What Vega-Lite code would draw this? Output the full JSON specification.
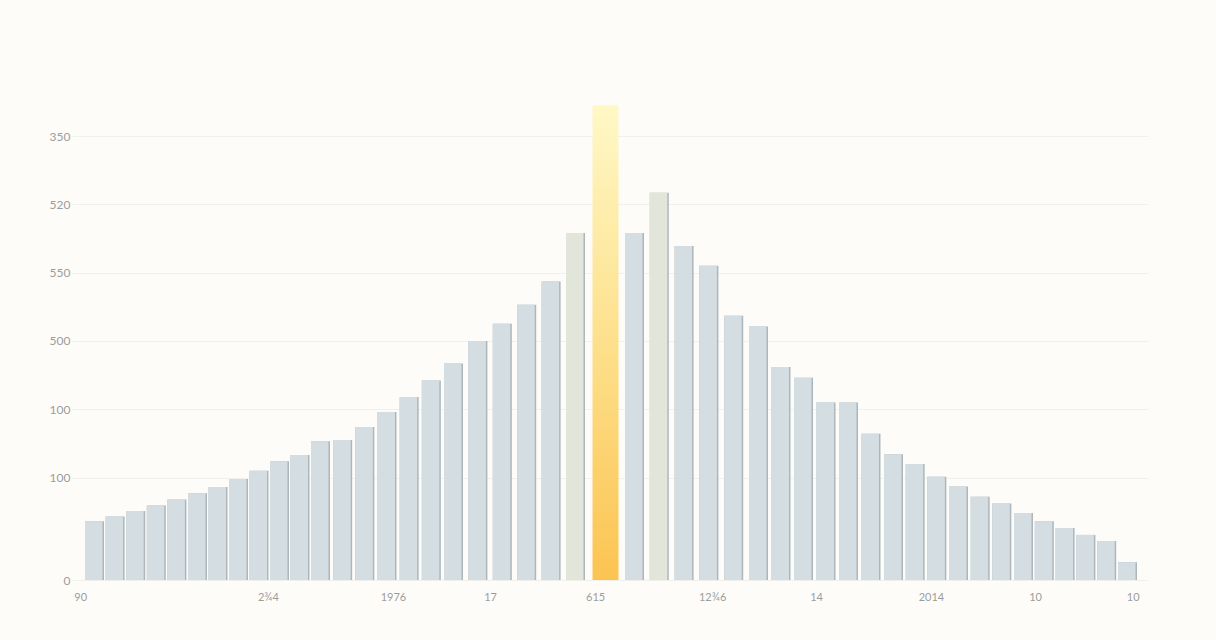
{
  "$schema": "https://vega.github.io/schema/vega-lite/v6.json",
  "autosize": {"type": "none"},
  "width": 1076,
  "height": 500,
  "padding": {"left": 72, "top": 80, "right": 68, "bottom": 60},
  "background": "#fdfcf9",
  "config": {
    "view": {"stroke": null},
    "axis": {"labelFont": "Lato", "labelColor": "#9c9c9c", "domain": false, "ticks": false}
  },
  "data": {
    "values": [
      {"i": 1, "v": 86, "group": "normal"},
      {"i": 2, "v": 93, "group": "normal"},
      {"i": 3, "v": 101, "group": "normal"},
      {"i": 4, "v": 109, "group": "normal"},
      {"i": 5, "v": 118, "group": "normal"},
      {"i": 6, "v": 127, "group": "normal"},
      {"i": 7, "v": 136, "group": "normal"},
      {"i": 8, "v": 148, "group": "normal"},
      {"i": 9, "v": 160, "group": "normal"},
      {"i": 10, "v": 174, "group": "normal"},
      {"i": 11, "v": 183, "group": "normal"},
      {"i": 12, "v": 203, "group": "normal"},
      {"i": 13, "v": 205, "group": "normal"},
      {"i": 14, "v": 224, "group": "normal"},
      {"i": 15, "v": 246, "group": "normal"},
      {"i": 16, "v": 268, "group": "normal"},
      {"i": 17, "v": 292, "group": "normal"},
      {"i": 18, "v": 317, "group": "normal"},
      {"i": 19, "v": 350, "group": "normal"},
      {"i": 20, "v": 375, "group": "normal"},
      {"i": 21, "v": 403, "group": "normal"},
      {"i": 22, "v": 437, "group": "normal"},
      {"i": 23, "v": 508, "group": "tinted"},
      {"i": 24, "v": 695, "group": "highlight"},
      {"i": 25, "v": 508, "group": "normal"},
      {"i": 26, "v": 567, "group": "tinted"},
      {"i": 27, "v": 489, "group": "normal"},
      {"i": 28, "v": 460, "group": "normal"},
      {"i": 29, "v": 387, "group": "normal"},
      {"i": 30, "v": 371, "group": "normal"},
      {"i": 31, "v": 312, "group": "normal"},
      {"i": 32, "v": 296, "group": "normal"},
      {"i": 33, "v": 260, "group": "normal"},
      {"i": 34, "v": 260, "group": "normal"},
      {"i": 35, "v": 214, "group": "normal"},
      {"i": 36, "v": 184, "group": "normal"},
      {"i": 37, "v": 170, "group": "normal"},
      {"i": 38, "v": 151, "group": "normal"},
      {"i": 39, "v": 137, "group": "normal"},
      {"i": 40, "v": 122, "group": "normal"},
      {"i": 41, "v": 112, "group": "normal"},
      {"i": 42, "v": 98, "group": "normal"},
      {"i": 43, "v": 86, "group": "normal"},
      {"i": 44, "v": 76, "group": "normal"},
      {"i": 45, "v": 66, "group": "normal"},
      {"i": 46, "v": 57, "group": "normal"},
      {"i": 47, "v": 26, "group": "normal"}
    ]
  },
  "encoding": {
    "x": {
      "field": "i",
      "type": "quantitative",
      "title": null,
      "scale": {
        "domain": [0, 1, 6, 12, 18, 23, 24, 25, 30, 36, 42, 47, 48],
        "range": [0, 22, 125, 248, 381, 503, 533.5, 562, 686, 821, 951, 1055, 1076],
        "nice": false,
        "zero": false
      },
      "axis": {
        "values": [0.23, 9.46, 15.29, 19.52, 23.66, 28.15, 32.58, 37.75, 42.58, 47.33],
        "labelExpr": "{'0.23':'90','9.46':'2¾4','15.29':'1976','19.52':'17','23.66':'615','28.15':'12¾6','32.58':'14','37.75':'2014','42.58':'10','47.33':'10'}['' + datum.value]",
        "labelFontSize": 11,
        "labelPadding": 11,
        "labelAlign": "center",
        "grid": false
      }
    },
    "y": {
      "field": "v",
      "type": "quantitative",
      "title": null,
      "scale": {"domain": [0, 732], "nice": false},
      "axis": {
        "values": [0, 150, 250, 350, 450, 550, 650],
        "labelExpr": "{'0':'0','150':'100','250':'100','350':'500','450':'550','550':'520','650':'350'}['' + datum.value]",
        "labelFontSize": 12,
        "labelPadding": 2,
        "grid": true,
        "gridColor": "#f1f0ea",
        "gridWidth": 1
      }
    }
  },
  "layer": [
    {
      "transform": [{"filter": "datum.group !== 'highlight'"}],
      "mark": {"type": "bar", "width": 19, "xOffset": 0.5, "color": "#adb7bb"}
    },
    {
      "transform": [{"filter": "datum.group !== 'highlight'"}],
      "mark": {"type": "bar", "width": 17.5, "xOffset": -0.25},
      "encoding": {
        "color": {
          "field": "group",
          "type": "nominal",
          "legend": null,
          "scale": {"domain": ["normal", "tinted"], "range": ["#d4dee2", "#e1e5da"]}
        }
      }
    },
    {
      "transform": [{"filter": "datum.group === 'highlight'"}],
      "mark": {
        "type": "bar",
        "width": 26,
        "color": {
          "gradient": "linear",
          "x1": 0, "y1": 0, "x2": 0, "y2": 1,
          "stops": [
            {"offset": 0, "color": "#fff8c6"},
            {"offset": 0.5, "color": "#fde08c"},
            {"offset": 1, "color": "#fbc452"}
          ]
        }
      }
    }
  ]
}
